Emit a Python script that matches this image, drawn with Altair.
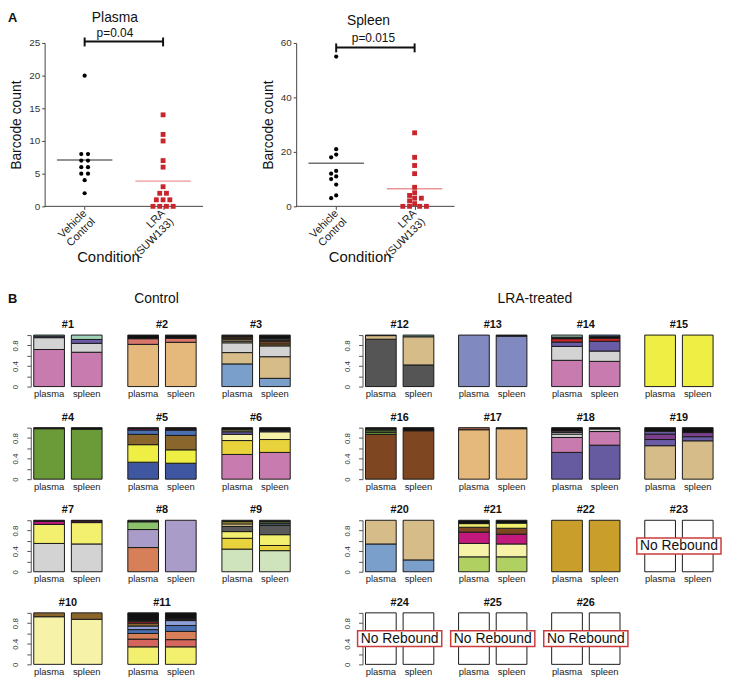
import altair as alt
import pandas as pd

FONT = "Liberation Sans"

# ---------------- Panel A data ----------------
CONDITIONS = ["Vehicle Control", "LRA (SUW133)"]
PLASMA_CONTROL = [20, 8, 8, 7, 7, 6, 6, 5, 5, 4, 2]
PLASMA_LRA = [14, 11, 10, 7, 6, 3, 2, 2, 1, 1, 1, 0, 0, 0, 0]
SPLEEN_CONTROL = [55, 21, 19, 18, 13, 12, 11, 10, 8, 4, 3]
SPLEEN_LRA = [27, 18, 15, 12, 7, 5, 4, 3, 3, 2, 1, 0, 0, 0, 0]
TISSUE_TITLES = ["Plasma", "Spleen"]
P_VALUES = ["p=0.04", "p=0.015"]
PLASMA_TICKS = [0, 5, 10, 15, 20, 25]
SPLEEN_TICKS = [0, 20, 40, 60]

# ---------------- Panel B data ----------------
TISSUES = ["plasma", "spleen"]
GROUP_TITLES = ["Control", "LRA-treated"]
PANEL_LETTERS = ["A", "B"]
NO_REBOUND_TEXT = "No Rebound"
CONTROL_MICE = list(range(1, 12))
LRA_MICE = list(range(12, 27))
NO_REBOUND = [23, 24, 25, 26]

# clone fractions, bottom to top: [clone, fraction]
S01_PLASMA = [["pink", .72], ["grey", .23], ["purple", .03], ["mint", .02]]
S01_SPLEEN = [["pink", .667], ["grey", .173], ["purple", .075], ["mint", .085]]
S02_PLASMA = [["tan", .82], ["salmon", .11], ["black", .07]]
S02_SPLEEN = [["tan", .86], ["salmon", .08], ["black", .06]]
S03_PLASMA = [["blue", .44], ["khaki", .22], ["grey", .19], ["paleyellow", .03], ["khaki", .03], ["rust", .03], ["darkbrown", .03], ["black", .03]]
S03_SPLEEN = [["blue", .16], ["khaki", .42], ["grey", .21], ["brown", .04], ["rust", .04], ["darkbrown", .03], ["slate", .03], ["black", .07]]
S04_PLASMA = [["green", .98], ["black", .02]]
S04_SPLEEN = [["green", .97], ["black", .03]]
S05_PLASMA = [["navy", .33], ["yellow", .34], ["brown", .20], ["royal", .085], ["magenta", .025], ["black", .02]]
S05_SPLEEN = [["navy", .31], ["yellow", .26], ["brown", .28], ["royal", .10], ["magenta", .02], ["black", .03]]
S06_PLASMA = [["pink", .48], ["gold", .27], ["paleyellow", .12], ["purple", .05], ["olive", .04], ["black", .04]]
S06_SPLEEN = [["pink", .52], ["gold", .25], ["paleyellow", .15], ["purple", .02], ["black", .06]]
S07_PLASMA = [["grey", .55], ["yellow2", .37], ["magenta", .06], ["black", .02]]
S07_SPLEEN = [["grey", .54], ["yellow2", .415], ["magenta", .03], ["black", .015]]
S08_PLASMA = [["orange", .47], ["lavender", .35], ["leaf", .15], ["black", .03]]
S08_SPLEEN = [["lavender", 1.0]]
S09_PLASMA = [["palegreen", .44], ["gold", .21], ["yellow2", .13], ["slate", .10], ["khaki", .05], ["gold", .04], ["black", .03]]
S09_SPLEEN = [["palegreen", .41], ["gold", .10], ["yellow2", .21], ["slate", .18], ["bluegrey", .04], ["lightgreen", .03], ["black", .03]]
S10_PLASMA = [["paleyellow", .925], ["brown", .075]]
S10_SPLEEN = [["paleyellow", .875], ["brown", .125]]
S11_PLASMA = [["yellow2", .34], ["redsalmon", .15], ["orange", .11], ["royal", .075], ["periblue", .07], ["brown", .055], ["red", .03], ["grey", .02], ["black", .15]]
S11_SPLEEN = [["yellow2", .34], ["redsalmon", .14], ["orange", .16], ["royal", .115], ["periblue", .095], ["red", .02], ["grey", .02], ["black", .11]]
S12_PLASMA = [["darkgrey", .92], ["khaki", .07], ["teal", .01]]
S12_SPLEEN = [["darkgrey", .42], ["khaki", .547], ["teal", .033]]
S13_PLASMA = [["periwinkle", 1.0]]
S13_SPLEEN = [["periwinkle", .98], ["black", .02]]
S14_PLASMA = [["pink", .51], ["grey", .27], ["purple", .085], ["red", .065], ["black", .03], ["mint", .04]]
S14_SPLEEN = [["pink", .49], ["grey", .20], ["purple", .19], ["red", .06], ["black", .03], ["royal", .03]]
S15_PLASMA = [["yellow", 1.0]]
S15_SPLEEN = [["yellow", 1.0]]
S16_PLASMA = [["chestnut", .87], ["green", .04], ["lightgreen", .03], ["green", .03], ["black", .03]]
S16_SPLEEN = [["chestnut", .94], ["black", .06]]
S17_PLASMA = [["tan", .96], ["brownsalmon", .04]]
S17_SPLEEN = [["tan", .98], ["black", .02]]
S18_PLASMA = [["violet", .52], ["pink", .29], ["grey", .065], ["white", .03], ["pink", .03], ["black", .065]]
S18_SPLEEN = [["violet", .66], ["pink", .265], ["grey", .05], ["black", .025]]
S19_PLASMA = [["khaki", .65], ["purple", .12], ["plum", .105], ["purple", .055], ["black", .07]]
S19_SPLEEN = [["khaki", .745], ["purple", .08], ["plum", .08], ["black", .095]]
S20_PLASMA = [["blue", .54], ["khaki", .46]]
S20_SPLEEN = [["blue", .23], ["khaki", .77]]
S21_PLASMA = [["ygreen", .29], ["paleyellow", .26], ["magenta", .22], ["chestnut", .095], ["yellow2", .07], ["black", .065]]
S21_SPLEEN = [["ygreen", .29], ["paleyellow", .25], ["magenta", .19], ["chestnut", .115], ["yellow2", .10], ["black", .055]]
S22_PLASMA = [["mustard", 1.0]]
S22_SPLEEN = [["mustard", 1.0]]
EMPTY = [["empty", 1.0]]

COMPOSITION = {
    1: (S01_PLASMA, S01_SPLEEN), 2: (S02_PLASMA, S02_SPLEEN), 3: (S03_PLASMA, S03_SPLEEN),
    4: (S04_PLASMA, S04_SPLEEN), 5: (S05_PLASMA, S05_SPLEEN), 6: (S06_PLASMA, S06_SPLEEN),
    7: (S07_PLASMA, S07_SPLEEN), 8: (S08_PLASMA, S08_SPLEEN), 9: (S09_PLASMA, S09_SPLEEN),
    10: (S10_PLASMA, S10_SPLEEN), 11: (S11_PLASMA, S11_SPLEEN), 12: (S12_PLASMA, S12_SPLEEN),
    13: (S13_PLASMA, S13_SPLEEN), 14: (S14_PLASMA, S14_SPLEEN), 15: (S15_PLASMA, S15_SPLEEN),
    16: (S16_PLASMA, S16_SPLEEN), 17: (S17_PLASMA, S17_SPLEEN), 18: (S18_PLASMA, S18_SPLEEN),
    19: (S19_PLASMA, S19_SPLEEN), 20: (S20_PLASMA, S20_SPLEEN), 21: (S21_PLASMA, S21_SPLEEN),
    22: (S22_PLASMA, S22_SPLEEN),
}
for m in NO_REBOUND:
    COMPOSITION[m] = (EMPTY, EMPTY)

PALETTE = {
    "pink": "#c77bae", "grey": "#d3d3d3", "purple": "#6a5ba6", "mint": "#9fd0b8",
    "tan": "#e5b87c", "salmon": "#d8766a", "black": "#111111", "blue": "#7b9fcb",
    "khaki": "#d5bc89", "paleyellow": "#f6f2a8", "brown": "#8a652c", "darkbrown": "#5a3a1a",
    "rust": "#b8672e", "green": "#6b9b38", "navy": "#3f56a1", "yellow": "#eeee45",
    "royal": "#4a70b2", "magenta": "#c4197c", "gold": "#e9d33c", "olive": "#8b8b52",
    "yellow2": "#f3ef6f", "lavender": "#aa9cc9", "orange": "#d67f58", "leaf": "#8cc26c",
    "palegreen": "#cfe4bd", "slate": "#5a5a5a", "bluegrey": "#4b5a6b", "redsalmon": "#d4665d",
    "periblue": "#8e9fd6", "red": "#c62828", "darkgrey": "#555555", "teal": "#6aa28c",
    "periwinkle": "#8189c1", "chestnut": "#7e4722", "lightgreen": "#7ab04a",
    "brownsalmon": "#a0604a", "violet": "#665aa1", "plum": "#7b3f8c", "ygreen": "#b1d062",
    "mustard": "#c99e2b", "white": "#f4f4f4", "empty": "#ffffff",
}

PLOT_W, PLOT_H = 160, 165
BAR_W, BAR_H = 75, 52


def swarm(vals, ppu, dist=5.5, step=1.7, row_gap=6.8):
    """Beeswarm-like pixel offsets computed from the values."""
    order = sorted(range(len(vals)), key=lambda i: -vals[i])
    groups = []
    for i in order:
        if groups and vals[groups[-1][0]] == vals[i]:
            groups[-1].append(i)
        else:
            groups.append([i])
    placed, offs = [], [0.0] * len(vals)
    cands = [0.0]
    for m in range(1, 25):
        cands += [-m * step, m * step]

    def ok(x, y):
        return all((x - px) ** 2 + (y - py) ** 2 >= dist ** 2 for (px, py) in placed)

    for g in groups:
        n = len(g)
        ypx = vals[g[0]] * ppu
        base = [(k - (n - 1) / 2) * row_gap for k in range(n)]
        if all(ok(b, ypx) for b in base):
            for gi, x in zip(g, base):
                offs[gi] = x
            placed.extend((x, ypx) for x in base)
        else:
            for gi in g:
                for c in cands:
                    if ok(c, ypx):
                        break
                offs[gi] = c
                placed.append((c, ypx))
    return offs


def text_layer(t, xv, yv, fs, weight="normal", align="center", baseline="middle"):
    return alt.Chart(pd.DataFrame({"t": [t]})).mark_text(
        fontSize=fs, fontWeight=weight, align=align, baseline=baseline, color="#111").encode(
        x=alt.value(xv), y=alt.value(yv), text="t:N")


def dot_panel(name, name_xy, ctrl, lra, ymax, yticks, pval, p_x, p_y, br_y, lead=0, letter=None):
    """lead: blank pixels left of the y axis inside the plot group (aligns panels)."""
    W, H = PLOT_W, PLOT_H
    ppu = H / ymax
    upx = W / 2.02
    rows = []
    for gi, vals in enumerate((ctrl, lra)):
        offs = swarm(vals, ppu)
        for v, o in zip(vals, offs):
            rows.append({"group": CONDITIONS[gi], "idx": gi, "xpos": gi + o / upx, "val": v})
    df = pd.DataFrame(rows)
    l0 = CONDITIONS[0].split(" ")
    l1 = CONDITIONS[1].split(" ")
    label_expr = "datum.value < 0.5 ? ['%s','%s'] : ['%s','%s']" % (l0[0], l0[1], l1[0], l1[1])
    xs = alt.Scale(domain=[-0.51 - lead / upx, 1.51], nice=False, zero=False)
    xaxis = alt.Axis(values=[0, 1], labelExpr=label_expr, labelAngle=315, labelAlign="right",
                     labelBaseline="middle", labelFontSize=11, labelPadding=2, labelColor="#222",
                     tickSize=3, domain=False, tickColor="#444", grid=False,
                     labelFlush=False, labelOverlap=False, labelLineHeight=12,
                     title="Condition", titleFontSize=15, titleFontWeight="normal",
                     titleColor="#111", titleX=64 + lead, titleY=51, titleBaseline="middle",
                     titleAlign="center", titleAnchor="start")
    ys = alt.Scale(domain=[0, ymax], nice=False, zero=True)
    yaxis = alt.Axis(values=yticks, labelFontSize=10, labelPadding=2, labelColor="#333",
                     tickSize=3, domainColor="#444", tickColor="#444", grid=False, offset=-lead,
                     title="Barcode count", titleFontSize=14, titleFontWeight="normal",
                     titleColor="#111", titlePadding=5)

    def X(f):
        return alt.X(f"{f}:Q", scale=xs, axis=xaxis)

    def Y(f):
        return alt.Y(f"{f}:Q", scale=ys, axis=yaxis)

    base_df = pd.DataFrame({"xpos": [-0.51], "xend": [1.51], "zero": [0]})
    baseline = alt.Chart(base_df).mark_rule(color="#444", strokeWidth=1).encode(
        x=X("xpos"), x2="xend:Q", y=Y("zero"))
    ctrl_pts = alt.Chart(df).transform_filter(alt.datum.idx == 0).mark_circle(
        size=18, color="#000000", opacity=1).encode(x=X("xpos"), y=Y("val"))
    lra_pts = alt.Chart(df).transform_filter(alt.datum.idx == 1).mark_square(
        size=24, color="#c9252c", opacity=1).encode(x=X("xpos"), y=Y("val"))
    mean_ctrl = alt.Chart(df).transform_filter(alt.datum.idx == 0).transform_aggregate(
        m="mean(val)", groupby=["idx"]
    ).mark_tick(orient="horizontal", size=56, thickness=1.3, color="#333333").encode(x=X("idx"), y=Y("m"))
    mean_lra = alt.Chart(df).transform_filter(alt.datum.idx == 1).transform_aggregate(
        m="mean(val)", groupby=["idx"]
    ).mark_tick(orient="horizontal", size=56, thickness=1.3, color="#e06a6a").encode(x=X("idx"), y=Y("m"))
    bdf = pd.DataFrame({"xpos": [0], "xend": [1]})
    bracket = alt.Chart(bdf).mark_rule(strokeWidth=2, color="#111").encode(
        x=X("xpos"), x2="xend:Q", y=alt.value(br_y))
    cdf = pd.DataFrame({"xpos": [0, 1]})
    caps = alt.Chart(cdf).mark_rule(strokeWidth=2, color="#111").encode(
        x=X("xpos"), y=alt.value(br_y - 4), y2=alt.value(br_y + 5))
    layers = [baseline, mean_ctrl, mean_lra, ctrl_pts, lra_pts, bracket, caps,
              text_layer(pval, p_x + lead, p_y, 12, baseline="alphabetic"),
              text_layer(name, name_xy[0] + lead, name_xy[1], 14)]
    if letter:
        layers.append(text_layer(letter, -37 + lead, -25, 13, weight="bold", align="left"))
    return alt.layer(*layers).properties(width=W + lead, height=H)


def bar_panel(num, show_axis, extra_texts=()):
    plasma, spleen = COMPOSITION[num]
    rows = []
    for tissue, segs in zip(TISSUES, (plasma, spleen)):
        lo = 0.0
        for k, (clone, frac) in enumerate(segs):
            rows.append({"tissue": tissue, "clone": clone, "lo": lo, "hi": lo + frac, "k": k})
            lo += frac
    df = pd.DataFrame(rows)
    x = alt.X("tissue:N", scale=alt.Scale(domain=TISSUES, paddingInner=0.184, paddingOuter=0.079),
              axis=alt.Axis(title=None, domain=False, ticks=False, labelAngle=0, labelFontSize=9.5,
                            labelPadding=2, labelColor="#222"))
    if show_axis:
        yaxis = alt.Axis(title=None, values=[0, 0.2, 0.4, 0.6, 0.8, 1.0],
                         labelExpr="datum.value == 0 ? '0' : (abs(datum.value-0.4) < 0.01 ? '0.4' : (abs(datum.value-0.8) < 0.01 ? '0.8' : ''))",
                         labelAngle=270, labelAlign="center", labelBaseline="middle", labelPadding=11,
                         labelFontSize=8, labelColor="#333", tickSize=4, domainColor="#555",
                         tickColor="#555", grid=False, labelOverlap=False)
    else:
        yaxis = None
    y = alt.Y("lo:Q", scale=alt.Scale(domain=[0, 1], nice=False, zero=True), axis=yaxis)
    bars = alt.Chart(df).mark_bar(stroke="#1a1a1a", strokeWidth=1).encode(
        x=x, y=y, y2="hi:Q",
        color=alt.Color("clone:N", scale=alt.Scale(domain=list(PALETTE.keys()), range=list(PALETTE.values())), legend=None),
        order=alt.Order("k:Q"))
    layers = [bars, text_layer(f"#{num}", BAR_W / 2, -10, 11, weight="bold")]
    if num in NO_REBOUND:
        box = alt.Chart(pd.DataFrame({"t": [NO_REBOUND_TEXT]})).mark_rect(
            fill="white", stroke="#cc3b3b", strokeWidth=1.5).encode(
            x=alt.value(-5), x2=alt.value(80), y=alt.value(18), y2=alt.value(34))
        layers += [box, text_layer(NO_REBOUND_TEXT, BAR_W / 2, 26.5, 14)]
    for (t, xv, yv, align, weight, fs) in extra_texts:
        layers.append(text_layer(t, xv, yv, fs, weight=weight, align=align))
    return alt.layer(*layers).properties(width=BAR_W, height=BAR_H)


plasma = dot_panel(TISSUE_TITLES[0], (71, -25), PLASMA_CONTROL, PLASMA_LRA, 25, PLASMA_TICKS,
                   P_VALUES[0], 71, -6.5, -1.5, lead=14, letter=PANEL_LETTERS[0])
spleen = dot_panel(TISSUE_TITLES[1], (73, -22), SPLEEN_CONTROL, SPLEEN_LRA, 60, SPLEEN_TICKS,
                   P_VALUES[1], 78, -0.5, 4.5)
panel_a = alt.hconcat(plasma, spleen, spacing=94, bounds="flush")

ctrl_charts = []
for i, m in enumerate(CONTROL_MICE):
    extra = ()
    if i == 0:
        extra = ((PANEL_LETTERS[1], -23, -36, "left", "bold", 13),
                 (GROUP_TITLES[0], 127, -36, "center", "normal", 14))
    ctrl_charts.append(bar_panel(m, i % 3 == 0, extra))
lra_charts = []
for i, m in enumerate(LRA_MICE):
    extra = ()
    if i == 0:
        extra = ((GROUP_TITLES[1], 174, -36, "center", "normal", 14),)
    lra_charts.append(bar_panel(m, i % 4 == 0, extra))

ctrl_grid = alt.concat(*ctrl_charts, columns=3, spacing={"row": 41.5, "column": 20}, bounds="flush")
lra_grid = alt.concat(*lra_charts, columns=4, spacing={"row": 41.5, "column": 19}, bounds="flush")
panel_b = alt.hconcat(ctrl_grid, lra_grid, spacing=50)

chart = alt.vconcat(panel_a, panel_b, spacing=28).properties(
    padding={"left": 0, "top": 0, "right": 0, "bottom": 0}
).configure(font=FONT).configure_view(stroke=None).configure_axis(
    labelFont=FONT, titleFont=FONT).configure_title(font=FONT).configure_text(font=FONT)

chart.save("out.html", embed_options={"renderer": "svg", "actions": False})
